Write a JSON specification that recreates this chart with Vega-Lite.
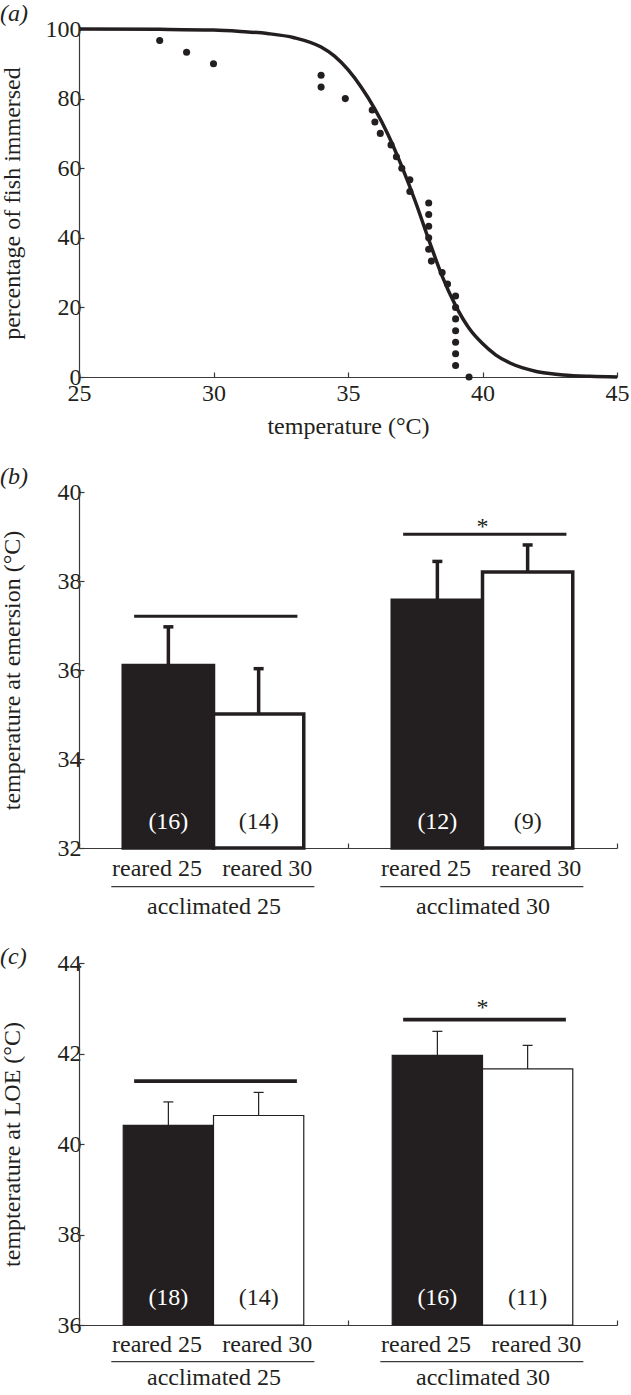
{
  "$schema": "https://vega.github.io/schema/vega-lite/v6.json",
  "background": "white",
  "padding": {"left": 0, "top": 2, "right": 0, "bottom": 0},
  "spacing": 27,
  "config": {
    "font": "Liberation Serif",
    "view": {"stroke": null},
    "axis": {
      "labelFont": "Liberation Serif", "titleFont": "Liberation Serif",
      "labelFontSize": 24, "titleFontSize": 24, "titleFontWeight": "normal",
      "labelColor": "#231f20", "titleColor": "#231f20",
      "domainColor": "#3a3a3a", "tickColor": "#3a3a3a",
      "domainWidth": 1.2, "tickWidth": 1.2, "tickSize": -5,
      "labelPadding": 3, "grid": false, "labelFlush": false, "labelOverlap": false
    },
    "title": {"font": "Liberation Serif", "fontSize": 24, "fontStyle": "italic", "fontWeight": "normal", "color": "#231f20", "anchor": "start", "frame": "bounds", "offset": -9},
    "text": {"font": "Liberation Serif", "fontSize": 24, "color": "#231f20"}
  },
  "datasets": {
    "curve": [
      {"temperature": 25, "immersed": 100}, {"temperature": 28, "immersed": 99.9}, {"temperature": 30, "immersed": 99.7},
      {"temperature": 31, "immersed": 99.3}, {"temperature": 32, "immersed": 98.7}, {"temperature": 33, "immersed": 97.5},
      {"temperature": 34, "immersed": 94.8}, {"temperature": 34.5, "immersed": 92.2}, {"temperature": 35, "immersed": 88.3},
      {"temperature": 35.5, "immersed": 83.2}, {"temperature": 36, "immersed": 77}, {"temperature": 36.5, "immersed": 69.5},
      {"temperature": 37, "immersed": 60.5}, {"temperature": 37.5, "immersed": 50.5}, {"temperature": 38, "immersed": 39.5},
      {"temperature": 38.5, "immersed": 29}, {"temperature": 39, "immersed": 20.5}, {"temperature": 39.5, "immersed": 14},
      {"temperature": 40, "immersed": 9.6}, {"temperature": 40.5, "immersed": 6.3}, {"temperature": 41, "immersed": 4.1},
      {"temperature": 41.5, "immersed": 2.6}, {"temperature": 42, "immersed": 1.6}, {"temperature": 42.5, "immersed": 1.0},
      {"temperature": 43, "immersed": 0.6}, {"temperature": 44, "immersed": 0.2}, {"temperature": 45, "immersed": 0}
    ],
    "fish": [
      {"temperature": 28, "immersed": 96.7}, {"temperature": 29, "immersed": 93.3}, {"temperature": 30, "immersed": 90.0},
      {"temperature": 34, "immersed": 86.7}, {"temperature": 34, "immersed": 83.3}, {"temperature": 34.9, "immersed": 80.0},
      {"temperature": 35.9, "immersed": 76.7}, {"temperature": 36.0, "immersed": 73.3}, {"temperature": 36.2, "immersed": 70.0},
      {"temperature": 36.6, "immersed": 66.7}, {"temperature": 36.8, "immersed": 63.3}, {"temperature": 37.0, "immersed": 60.0},
      {"temperature": 37.3, "immersed": 56.7}, {"temperature": 37.3, "immersed": 53.3}, {"temperature": 38.0, "immersed": 50.0},
      {"temperature": 38.0, "immersed": 46.7}, {"temperature": 38.0, "immersed": 43.3}, {"temperature": 38.0, "immersed": 40.0},
      {"temperature": 38.0, "immersed": 36.7}, {"temperature": 38.1, "immersed": 33.3}, {"temperature": 38.5, "immersed": 30.0},
      {"temperature": 38.7, "immersed": 26.7}, {"temperature": 39.0, "immersed": 23.3}, {"temperature": 39.0, "immersed": 20.0},
      {"temperature": 39.0, "immersed": 16.7}, {"temperature": 39.0, "immersed": 13.3}, {"temperature": 39.0, "immersed": 10.0},
      {"temperature": 39.0, "immersed": 6.7}, {"temperature": 39.0, "immersed": 3.3}, {"temperature": 39.5, "immersed": 0}
    ],
    "emersion": [
      {"group": "acclimated 25", "rearing": "reared 25", "mean": 36.10, "upper": 36.97, "n": "(16)"},
      {"group": "acclimated 25", "rearing": "reared 30", "mean": 35.01, "upper": 36.03, "n": "(14)"},
      {"group": "acclimated 30", "rearing": "reared 25", "mean": 37.57, "upper": 38.44, "n": "(12)"},
      {"group": "acclimated 30", "rearing": "reared 30", "mean": 38.20, "upper": 38.81, "n": "(9)"}
    ],
    "sig_b": [
      {"group": "acclimated 25", "level": 37.21, "mark": ""},
      {"group": "acclimated 30", "level": 39.05, "mark": "*"}
    ],
    "loe": [
      {"group": "acclimated 25", "rearing": "reared 25", "mean": 40.41, "upper": 40.93, "n": "(18)"},
      {"group": "acclimated 25", "rearing": "reared 30", "mean": 40.63, "upper": 41.14, "n": "(14)"},
      {"group": "acclimated 30", "rearing": "reared 25", "mean": 41.96, "upper": 42.49, "n": "(16)"},
      {"group": "acclimated 30", "rearing": "reared 30", "mean": 41.66, "upper": 42.18, "n": "(11)"}
    ],
    "sig_c": [
      {"group": "acclimated 25", "level": 41.39, "mark": ""},
      {"group": "acclimated 30", "level": 42.75, "mark": "*"}
    ]
  },
  "vconcat": [
    {
      "title": {"text": "(a)"},
      "width": 538, "height": 348,
      "layer": [
        {
          "data": {"name": "curve"},
          "mark": {"type": "line", "interpolate": "monotone", "stroke": "#231f20", "strokeWidth": 3.5},
          "encoding": {
            "x": {"field": "temperature", "type": "quantitative", "scale": {"domain": [25, 45], "nice": false},
                  "axis": {"values": [25, 30, 35, 40, 45], "title": "temperature (°C)", "labelPadding": 9, "titlePadding": 9}},
            "y": {"field": "immersed", "type": "quantitative", "scale": {"domain": [0, 100], "nice": false},
                  "axis": {"values": [0, 20, 40, 60, 80, 100], "title": "percentage of fish immersed", "titlePadding": 21}}
          }
        },
        {
          "data": {"name": "fish"},
          "mark": {"type": "circle", "size": 50, "fill": "#231f20", "opacity": 1},
          "encoding": {
            "x": {"field": "temperature", "type": "quantitative"},
            "y": {"field": "immersed", "type": "quantitative"}
          }
        }
      ]
    },
    {
      "title": {"text": "(b)", "offset": -9},
      "width": 538, "height": 356,
      "layer": [
        {
          "data": {"name": "emersion"},
          "mark": {"type": "bar", "stroke": "#231f20", "strokeWidth": 3.5},
          "encoding": {
            "x": {"field": "group", "type": "nominal", "scale": {"paddingInner": 0, "paddingOuter": 0},
                  "axis": {"title": null, "labelPadding": 51, "tickBand": "extent", "labelAngle": 0}},
            "xOffset": {"field": "rearing", "type": "nominal", "scale": {"paddingInner": 0, "paddingOuter": 0.49}},
            "y": {"field": "mean", "type": "quantitative", "scale": {"domain": [32, 40], "nice": false, "zero": false},
                  "axis": {"values": [32, 34, 36, 38, 40], "title": "temperature at emersion (°C)", "titlePadding": 33}},
            "y2": {"datum": 32},
            "fill": {"field": "rearing", "type": "nominal", "scale": {"range": ["#231f20", "#ffffff"]}, "legend": null}
          }
        },
        {
          "data": {"name": "emersion"},
          "mark": {"type": "rule", "stroke": "#231f20", "strokeWidth": 3.5},
          "encoding": {
            "x": {"field": "group", "type": "nominal"},
            "xOffset": {"field": "rearing", "type": "nominal"},
            "y": {"field": "mean", "type": "quantitative", "scale": {"domain": [32, 40]}},
            "y2": {"field": "upper"}
          }
        },
        {
          "data": {"name": "emersion"},
          "mark": {"type": "tick", "orient": "horizontal", "size": 10, "thickness": 3.5, "color": "#231f20", "opacity": 1},
          "encoding": {
            "x": {"field": "group", "type": "nominal"},
            "xOffset": {"field": "rearing", "type": "nominal"},
            "y": {"field": "upper", "type": "quantitative", "scale": {"domain": [32, 40]}}
          }
        },
        {
          "data": {"name": "emersion"},
          "mark": {"type": "text", "baseline": "middle", "dy": -26},
          "encoding": {
            "x": {"field": "group", "type": "nominal"},
            "xOffset": {"field": "rearing", "type": "nominal"},
            "y": {"datum": 32},
            "text": {"field": "n"},
            "color": {"field": "rearing", "type": "nominal", "scale": {"range": ["#ffffff", "#231f20"]}, "legend": null}
          }
        },
        {
          "data": {"name": "emersion"},
          "transform": [{"filter": "datum.rearing == 'reared 25'"}],
          "mark": {"type": "text", "baseline": "middle", "dy": 21},
          "encoding": {
            "x": {"field": "group", "type": "nominal", "bandPosition": 0.29},
            "y": {"datum": 32},
            "text": {"field": "rearing"}
          }
        },
        {
          "data": {"name": "emersion"},
          "transform": [{"filter": "datum.rearing == 'reared 30'"}],
          "mark": {"type": "text", "baseline": "middle", "dy": 21},
          "encoding": {
            "x": {"field": "group", "type": "nominal", "bandPosition": 0.7},
            "y": {"datum": 32},
            "text": {"field": "rearing"}
          }
        },
        {
          "data": {"name": "emersion"},
          "transform": [{"filter": "datum.rearing == 'reared 25'"}],
          "mark": {"type": "rule", "stroke": "#3a3a3a", "strokeWidth": 1.2},
          "encoding": {
            "x": {"field": "group", "type": "nominal", "bandPosition": 0.12},
            "x2": {"field": "group", "bandPosition": 0.875},
            "y": {"datum": 31.13}
          }
        },
        {
          "data": {"name": "sig_b"},
          "mark": {"type": "rule", "stroke": "#231f20", "strokeWidth": 3},
          "encoding": {
            "x": {"field": "group", "type": "nominal", "bandPosition": 0.205},
            "x2": {"field": "group", "bandPosition": 0.812},
            "y": {"field": "level", "type": "quantitative", "scale": {"domain": [32, 40]}}
          }
        },
        {
          "data": {"name": "sig_b"},
          "mark": {"type": "text", "baseline": "alphabetic", "dy": 0},
          "encoding": {
            "x": {"field": "group", "type": "nominal"},
            "y": {"field": "level", "type": "quantitative", "scale": {"domain": [32, 40]}},
            "text": {"field": "mark"}
          }
        }
      ]
    },
    {
      "title": {"text": "(c)", "offset": -18},
      "width": 538, "height": 362,
      "layer": [
        {
          "data": {"name": "loe"},
          "mark": {"type": "bar", "stroke": "#231f20", "strokeWidth": 1.2},
          "encoding": {
            "x": {"field": "group", "type": "nominal", "scale": {"paddingInner": 0, "paddingOuter": 0},
                  "axis": {"title": null, "labelPadding": 45, "tickBand": "extent", "labelAngle": 0}},
            "xOffset": {"field": "rearing", "type": "nominal", "scale": {"paddingInner": 0, "paddingOuter": 0.49}},
            "y": {"field": "mean", "type": "quantitative", "scale": {"domain": [36, 44], "nice": false, "zero": false},
                  "axis": {"values": [36, 38, 40, 42, 44], "title": "tempterature at LOE (°C)", "titlePadding": 33}},
            "y2": {"datum": 36},
            "fill": {"field": "rearing", "type": "nominal", "scale": {"range": ["#231f20", "#ffffff"]}, "legend": null}
          }
        },
        {
          "data": {"name": "loe"},
          "mark": {"type": "rule", "stroke": "#231f20", "strokeWidth": 1.2},
          "encoding": {
            "x": {"field": "group", "type": "nominal"},
            "xOffset": {"field": "rearing", "type": "nominal"},
            "y": {"field": "mean", "type": "quantitative", "scale": {"domain": [36, 44]}},
            "y2": {"field": "upper"}
          }
        },
        {
          "data": {"name": "loe"},
          "mark": {"type": "tick", "orient": "horizontal", "size": 10, "thickness": 1.2, "color": "#231f20", "opacity": 1},
          "encoding": {
            "x": {"field": "group", "type": "nominal"},
            "xOffset": {"field": "rearing", "type": "nominal"},
            "y": {"field": "upper", "type": "quantitative", "scale": {"domain": [36, 44]}}
          }
        },
        {
          "data": {"name": "loe"},
          "mark": {"type": "text", "baseline": "middle", "dy": -27},
          "encoding": {
            "x": {"field": "group", "type": "nominal"},
            "xOffset": {"field": "rearing", "type": "nominal"},
            "y": {"datum": 36},
            "text": {"field": "n"},
            "color": {"field": "rearing", "type": "nominal", "scale": {"range": ["#ffffff", "#231f20"]}, "legend": null}
          }
        },
        {
          "data": {"name": "loe"},
          "transform": [{"filter": "datum.rearing == 'reared 25'"}],
          "mark": {"type": "text", "baseline": "middle", "dy": 20},
          "encoding": {
            "x": {"field": "group", "type": "nominal", "bandPosition": 0.29},
            "y": {"datum": 36},
            "text": {"field": "rearing"}
          }
        },
        {
          "data": {"name": "loe"},
          "transform": [{"filter": "datum.rearing == 'reared 30'"}],
          "mark": {"type": "text", "baseline": "middle", "dy": 20},
          "encoding": {
            "x": {"field": "group", "type": "nominal", "bandPosition": 0.7},
            "y": {"datum": 36},
            "text": {"field": "rearing"}
          }
        },
        {
          "data": {"name": "loe"},
          "transform": [{"filter": "datum.rearing == 'reared 25'"}],
          "mark": {"type": "rule", "stroke": "#3a3a3a", "strokeWidth": 1.2},
          "encoding": {
            "x": {"field": "group", "type": "nominal", "bandPosition": 0.12},
            "x2": {"field": "group", "bandPosition": 0.875},
            "y": {"datum": 35.19}
          }
        },
        {
          "data": {"name": "sig_c"},
          "mark": {"type": "rule", "stroke": "#231f20", "strokeWidth": 3.8},
          "encoding": {
            "x": {"field": "group", "type": "nominal", "bandPosition": 0.205},
            "x2": {"field": "group", "bandPosition": 0.81},
            "y": {"field": "level", "type": "quantitative", "scale": {"domain": [36, 44]}}
          }
        },
        {
          "data": {"name": "sig_c"},
          "mark": {"type": "text", "baseline": "alphabetic", "dy": -5},
          "encoding": {
            "x": {"field": "group", "type": "nominal"},
            "y": {"field": "level", "type": "quantitative", "scale": {"domain": [36, 44]}},
            "text": {"field": "mark"}
          }
        }
      ]
    }
  ]
}
